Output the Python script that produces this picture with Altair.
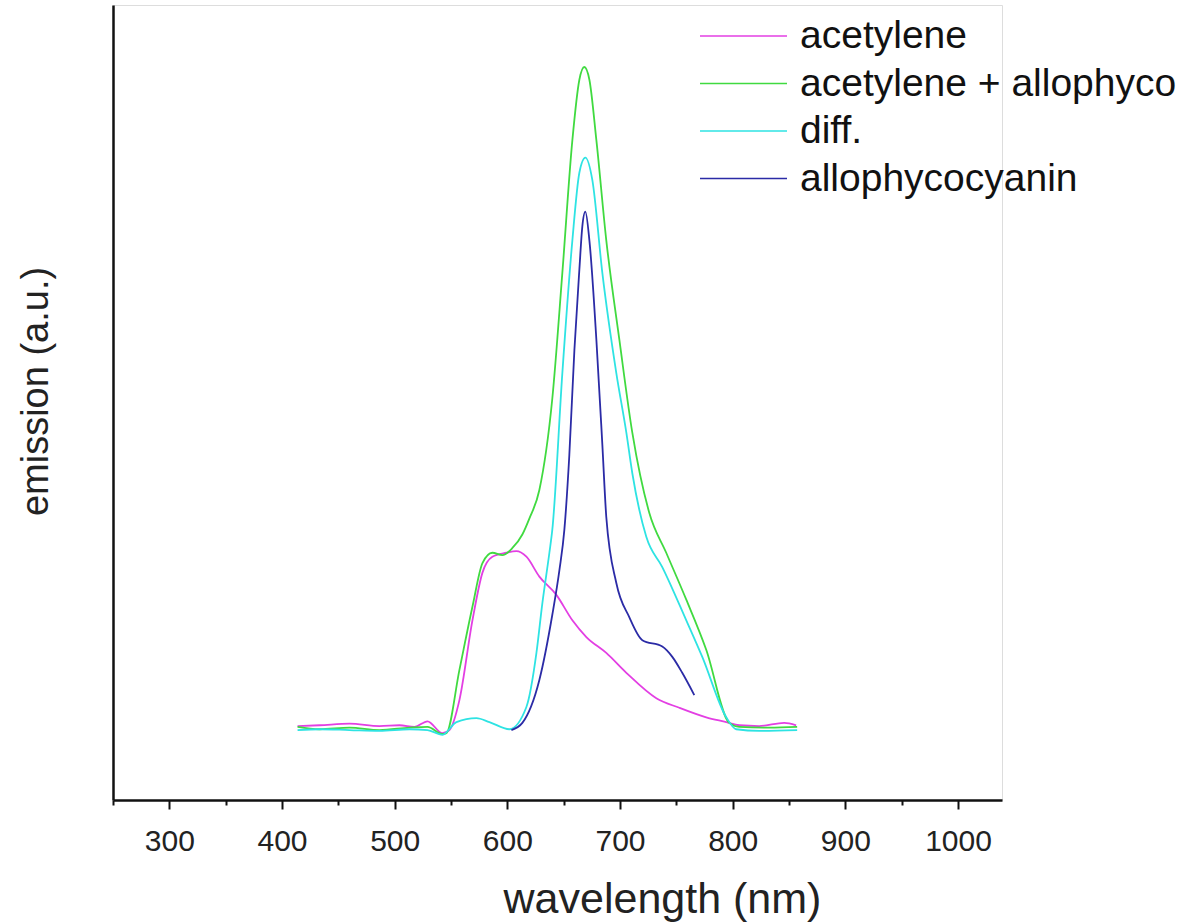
import altair as alt
import pandas as pd

# ---- data (wavelength in nm, emission in a.u.) ----
acet_wl = [413.8, 433.3, 459.9, 486.5, 504.3, 517.6, 529.1, 542.4, 548.6, 557.5, 569.0, 577.9,
           586.7, 599.1, 608.0, 616.9, 628.4, 643.5, 657.7, 670.1, 687.8, 705.6, 732.2, 752.6,
           776.5, 794.3, 805.8, 823.5, 845.7, 856.3]
acet_val = [9.3, 9.4, 9.6, 9.3, 9.4, 9.2, 9.9, 8.4, 8.8, 12.6, 22.6, 28.6,
            30.6, 31.1, 31.3, 30.6, 28.1, 25.8, 22.6, 20.5, 18.5, 16.0, 12.8, 11.6,
            10.4, 9.8, 9.4, 9.3, 9.7, 9.4]

mix_wl = [413.8, 433.3, 459.9, 486.5, 513.1, 529.1, 542.4, 545.9, 557.5, 569.0, 577.9, 586.7,
          595.6, 604.5, 613.3, 619.5, 628.4, 639.9, 648.8, 657.7, 663.9, 668.3, 672.8, 679.0,
          687.8, 699.4, 710.9, 726.0, 741.0, 758.8, 776.5, 796.9, 805.8, 832.4, 857.2]
mix_val = [9.2, 8.9, 9.1, 8.8, 9.1, 9.2, 8.3, 8.4, 16.4, 24.3, 29.8, 31.1,
           30.8, 31.7, 33.4, 35.4, 39.0, 50.5, 66.3, 83.0, 90.6, 92.2, 90.6, 83.0,
           70.4, 57.9, 46.2, 36.1, 31.1, 25.2, 18.9, 9.7, 9.2, 9.1, 9.2]

diff_wl = [413.8, 433.3, 459.9, 486.5, 513.1, 529.1, 542.4, 554.8, 572.5, 584.1, 601.8, 616.9,
           625.8, 631.1, 637.3, 639.9, 648.8, 657.7, 663.9, 669.2, 675.4, 684.3, 696.7, 705.6,
           710.9, 723.3, 737.5, 758.8, 773.0, 794.3, 803.1, 823.5, 857.2]
diff_val = [8.8, 8.9, 8.8, 8.7, 8.9, 8.8, 8.2, 9.8, 10.3, 9.8, 8.9, 11.7,
            18.5, 24.8, 31.1, 34.0, 53.7, 70.4, 78.9, 80.8, 78.0, 66.3, 53.7, 46.2,
            41.1, 33.1, 29.3, 22.6, 18.0, 10.4, 8.9, 8.7, 8.8]

apc_wl = [603.6, 613.3, 628.4, 639.9, 646.2, 650.6, 655.0, 659.5, 663.9, 666.5, 669.2, 672.8,
          679.0, 684.3, 687.8, 696.7, 708.2, 719.8, 737.5, 746.4, 755.2, 765.9]
apc_val = [8.8, 9.7, 15.1, 23.3, 28.9, 34.0, 43.4, 56.6, 66.7, 72.1, 74.0, 70.4,
           57.9, 44.7, 35.6, 27.3, 23.0, 20.1, 19.3, 18.0, 16.0, 13.2]

series_names = ["acetylene", "acetylene + allophyco", "diff.", "allophycocyanin"]
series_colors = ["#e33fe3", "#40da40", "#2ee3e3", "#2b2ba6"]
x_ticks = [250, 300, 350, 400, 450, 500, 550, 600, 650, 700, 750, 800, 850, 900, 950, 1000]

rows = []
for name, wl, val in zip(series_names, [acet_wl, mix_wl, diff_wl, apc_wl],
                         [acet_val, mix_val, diff_val, apc_val]):
    for i, (w, v) in enumerate(zip(wl, val)):
        rows.append({"series": name, "wavelength": w, "emission": v, "order": i})
df = pd.DataFrame(rows)

FONT = "Liberation Sans"

chart = alt.Chart(df).mark_line(strokeWidth=1.8, interpolate="monotone").encode(
    x=alt.X("wavelength:Q",
            scale=alt.Scale(domain=[250, 1039], nice=False, zero=False),
            axis=alt.Axis(values=x_ticks, title="wavelength (nm)",
                          labelExpr="datum.value % 100 == 0 ? datum.label : ''",
                          tickSize={"condition": {"test": "datum.value % 100 == 0", "value": 9}, "value": 5},
                          tickWidth=2, tickColor="#111", domainColor="#111", domainWidth=2.5,
                          labelFont=FONT, labelFontSize=30, labelColor="#222", labelPadding=17,
                          titleFont=FONT, titleFontSize=43, titleFontWeight="normal",
                          titleColor="#222", titlePadding=22, titleX=549, titleAlign="center",
                          grid=False, format="d")),
    y=alt.Y("emission:Q",
            scale=alt.Scale(domain=[0, 100], nice=False, zero=False),
            axis=alt.Axis(title="emission (a.u.)", ticks=False, labels=False,
                          domainColor="#111", domainWidth=2.5, grid=False,
                          titleFont=FONT, titleFontSize=38, titleFontWeight="normal",
                          titleColor="#222", titlePadding=58, titleY=386)),
    color=alt.Color("series:N",
                    scale=alt.Scale(domain=series_names, range=series_colors),
                    legend=alt.Legend(title=None, orient="none", legendX=586, legendY=12,
                                      symbolType="stroke", symbolSize=7569, symbolStrokeWidth=1.5,
                                      labelFont=FONT, labelFontSize=39, labelColor="#111",
                                      labelLimit=600, labelOffset=12, clipHeight=38,
                                      rowPadding=8.5)),
    detail="series:N",
    order="order:Q",
).properties(
    width=889, height=795,
    autosize=alt.AutoSizeParams(type="none"),
    padding={"left": 113, "top": 5, "right": 182, "bottom": 123},
).configure_view(stroke=None).configure(background="white")

chart.save("out.html", embed_options={"renderer": "svg", "actions": False})
